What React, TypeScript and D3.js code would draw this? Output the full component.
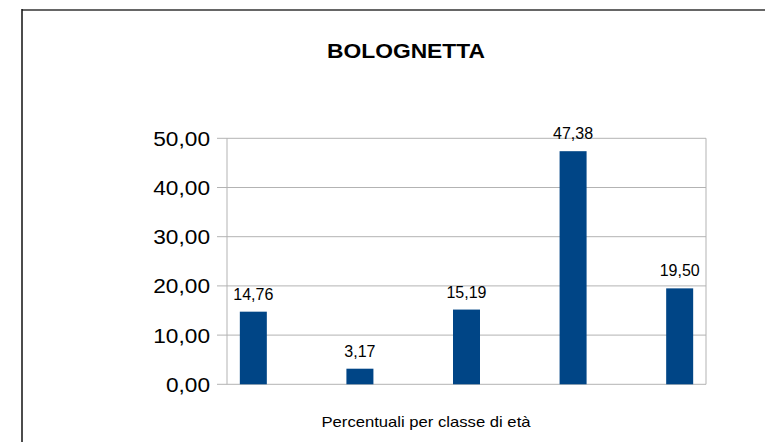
import React from "react";
import * as d3 from "d3";

const categories = ["0-14", "15-19", "20-29", "30-59", "60+"];
const values = [14.76, 3.17, 15.19, 47.38, 19.5];
const yTicks = [0, 10, 20, 30, 40, 50];
const title = "BOLOGNETTA";
const xTitle = "Percentuali per classe di età";

const fmt = (v: number) => v.toFixed(2).replace(".", ",");

export default function App() {
  const W = 765, H = 442;
  const left = 227, right = 706, top = 138.3, bottom = 384.3;
  const x = d3.scalePoint<string>().domain(categories).range([left, right]).padding(0.247);
  const y = d3.scaleLinear().domain([0, 50]).range([bottom, top]);
  const barW = 27;
  const font = "'Liberation Sans', Arial, sans-serif";
  return (
    <svg width={W} height={H} style={{ position: "absolute", left: 0, top: 0, background: "#fff" }} fontFamily={font}>
      <rect x={0} y={0} width={W} height={H} fill="#fff" />
      {/* outer frame */}
      <line x1={22} x2={W} y1={10} y2={10} stroke="#666" strokeWidth={2} />
      <line x1={22} x2={22} y1={9} y2={H} stroke="#111" strokeWidth={1.5} />
      {/* title */}
      <text x={406} y={58} textAnchor="middle" fontWeight="bold" fontSize={20} textLength={158} lengthAdjust="spacingAndGlyphs" fill="#000">{title}</text>
      {/* gridlines */}
      {yTicks.map((t) => (
        <g key={t}>
          <line x1={217} x2={right} y1={y(t)} y2={y(t)} stroke="#b3b3b3" strokeWidth={1} />
          <text transform={`translate(210,${y(t)}) scale(1.08,1)`} dy="0.36em" textAnchor="end" fontSize={21} fill="#000">{fmt(t)}</text>
        </g>
      ))}
      <line x1={left} x2={left} y1={top} y2={bottom} stroke="#b3b3b3" strokeWidth={1} />
      <line x1={right} x2={right} y1={top} y2={bottom} stroke="#b3b3b3" strokeWidth={1} />
      {/* bars */}
      {categories.map((c, i) => {
        const cx = x(c)!;
        const v = values[i];
        return (
          <g key={c}>
            <rect x={cx - barW / 2} y={y(v)} width={barW} height={bottom - y(v)} fill="#004586" />
            <text x={cx} y={y(v) - 12} textAnchor="middle" fontSize={16} fill="#000">{fmt(v)}</text>
          </g>
        );
      })}
      {/* x title */}
      <text x={426} y={427} textAnchor="middle" fontSize={15} textLength={209} lengthAdjust="spacingAndGlyphs" fill="#000">{xTitle}</text>
    </svg>
  );
}
